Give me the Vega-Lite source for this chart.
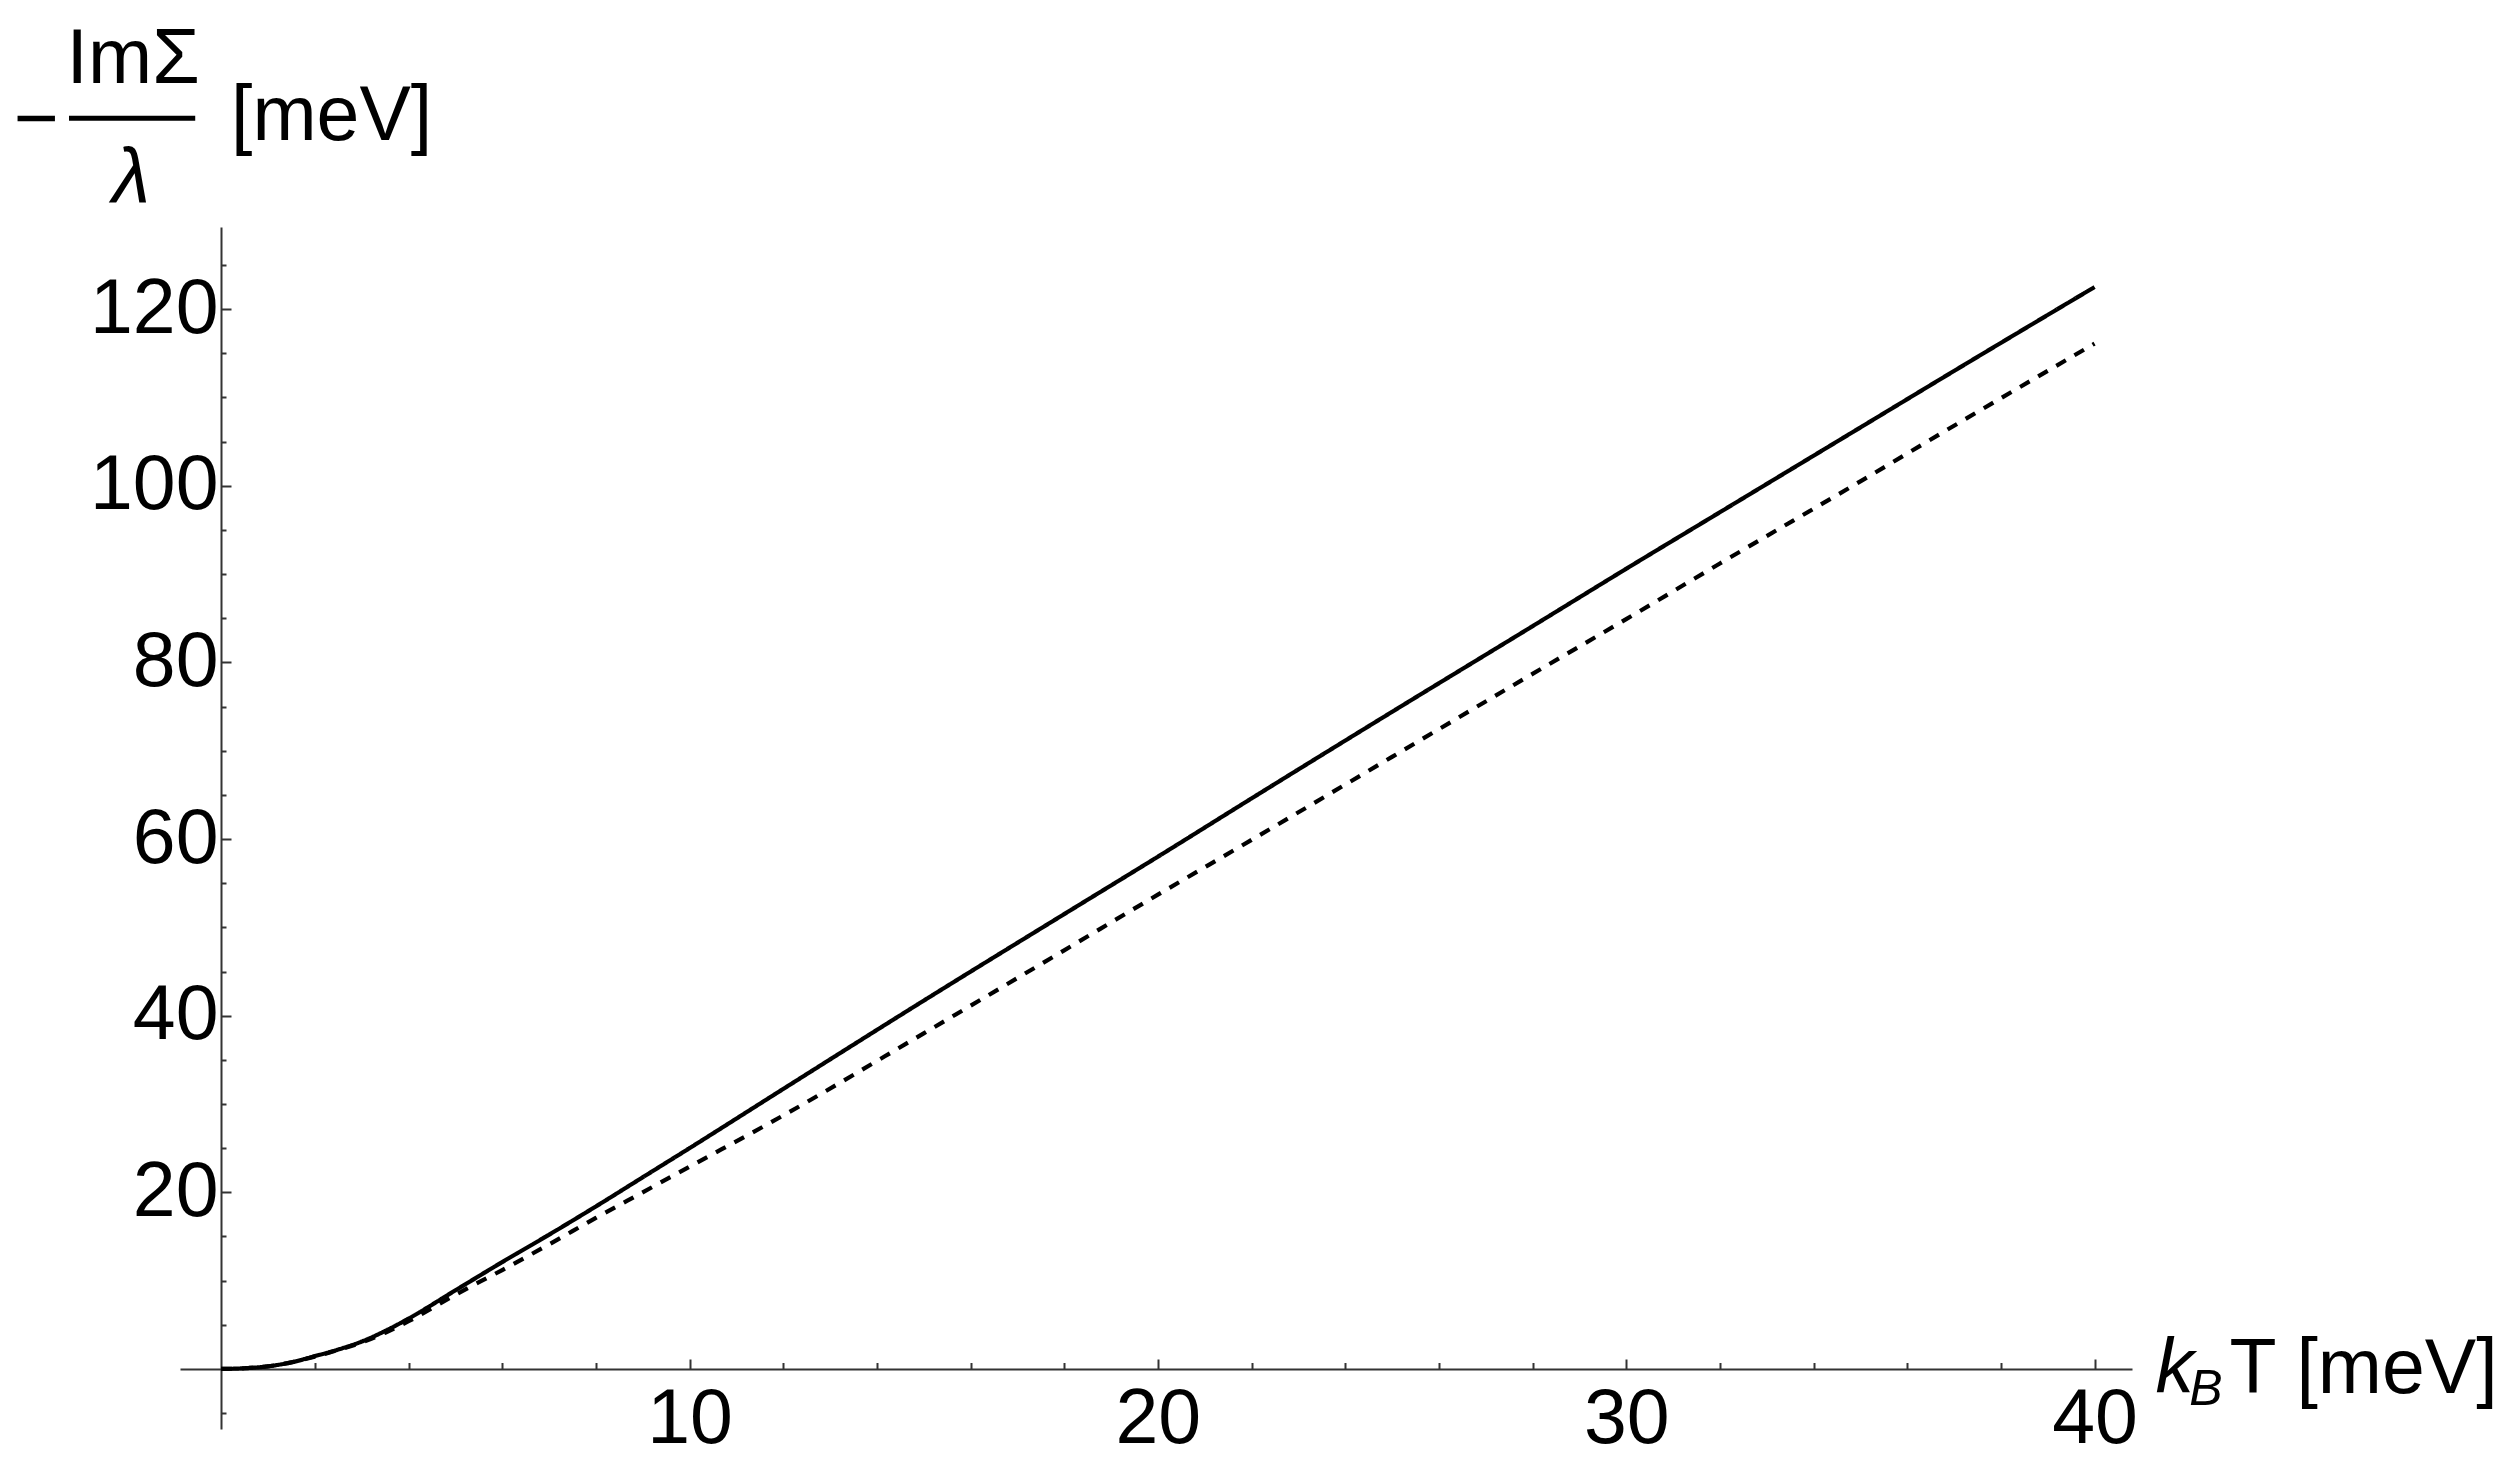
{
  "$schema": "https://vega.github.io/schema/vega-lite/v6.json",
  "width": 1952,
  "height": 1202,
  "autosize": {"type": "none"},
  "padding": {"left": 180, "top": 227, "right": 384, "bottom": 49},
  "background": "white",
  "config": {"view": {"stroke": null}, "font": "Liberation Sans"},
  "layer": [
    {
      "data": {
        "values": [
          {"t": 0, "v": 0, "curve": "full"},
          {"t": 0.5, "v": 0.08, "curve": "full"},
          {"t": 1, "v": 0.3, "curve": "full"},
          {"t": 1.5, "v": 0.75, "curve": "full"},
          {"t": 2, "v": 1.45, "curve": "full"},
          {"t": 2.5, "v": 2.2, "curve": "full"},
          {"t": 3, "v": 3.1, "curve": "full"},
          {"t": 3.5, "v": 4.3, "curve": "full"},
          {"t": 4, "v": 5.7, "curve": "full"},
          {"t": 5, "v": 8.9, "curve": "full"},
          {"t": 6, "v": 12.1, "curve": "full"},
          {"t": 7, "v": 15.2, "curve": "full"},
          {"t": 8, "v": 18.4, "curve": "full"},
          {"t": 9, "v": 21.7, "curve": "full"},
          {"t": 10, "v": 25.0, "curve": "full"},
          {"t": 12, "v": 31.7, "curve": "full"},
          {"t": 15, "v": 41.7, "curve": "full"},
          {"t": 18, "v": 51.5, "curve": "full"},
          {"t": 20, "v": 58.0, "curve": "full"},
          {"t": 22, "v": 64.6, "curve": "full"},
          {"t": 25, "v": 74.4, "curve": "full"},
          {"t": 28, "v": 84.1, "curve": "full"},
          {"t": 30, "v": 90.6, "curve": "full"},
          {"t": 32, "v": 97.0, "curve": "full"},
          {"t": 35, "v": 106.6, "curve": "full"},
          {"t": 37, "v": 113.0, "curve": "full"},
          {"t": 40, "v": 122.5, "curve": "full"},
          {"t": 0, "v": 0, "curve": "approx"},
          {"t": 0.5, "v": 0.08, "curve": "approx"},
          {"t": 1, "v": 0.3, "curve": "approx"},
          {"t": 1.5, "v": 0.75, "curve": "approx"},
          {"t": 2, "v": 1.4, "curve": "approx"},
          {"t": 2.5, "v": 2.15, "curve": "approx"},
          {"t": 3, "v": 3.0, "curve": "approx"},
          {"t": 3.5, "v": 4.1, "curve": "approx"},
          {"t": 4, "v": 5.4, "curve": "approx"},
          {"t": 5, "v": 8.4, "curve": "approx"},
          {"t": 6, "v": 11.2, "curve": "approx"},
          {"t": 7, "v": 14.1, "curve": "approx"},
          {"t": 8, "v": 17.1, "curve": "approx"},
          {"t": 9, "v": 20.0, "curve": "approx"},
          {"t": 10, "v": 22.9, "curve": "approx"},
          {"t": 12, "v": 28.7, "curve": "approx"},
          {"t": 15, "v": 38.0, "curve": "approx"},
          {"t": 18, "v": 47.4, "curve": "approx"},
          {"t": 20, "v": 53.7, "curve": "approx"},
          {"t": 22, "v": 59.9, "curve": "approx"},
          {"t": 25, "v": 69.3, "curve": "approx"},
          {"t": 28, "v": 78.7, "curve": "approx"},
          {"t": 30, "v": 84.9, "curve": "approx"},
          {"t": 32, "v": 91.2, "curve": "approx"},
          {"t": 35, "v": 100.5, "curve": "approx"},
          {"t": 37, "v": 106.8, "curve": "approx"},
          {"t": 40, "v": 116.1, "curve": "approx"}
        ]
      },
      "mark": {"type": "line", "color": "black", "strokeWidth": 4.2, "interpolate": "monotone"},
      "encoding": {
        "x": {
          "field": "t",
          "type": "quantitative",
          "title": null,
          "scale": {"domain": [-0.88, 40.8], "nice": false, "zero": false},
          "axis": {
            "values": [2, 4, 6, 8, 10, 12, 14, 16, 18, 20, 22, 24, 26, 28, 30, 32, 34, 36, 38, 40],
            "labelExpr": "datum.value % 10 === 0 ? datum.label : ''",
            "tickSize": {"condition": {"test": "datum.value % 10 === 0", "value": -10}, "value": -6.5},
            "tickWidth": 2,
            "tickColor": "#333",
            "domainColor": "#333",
            "domainWidth": 2,
            "labelFontSize": 77,
            "labelColor": "black",
            "labelFont": "Liberation Sans",
            "labelPadding": 22,
            "labelFlush": false,
            "labelOverlap": false,
            "labelBound": false,
            "grid": false,
            "offset": -60
          }
        },
        "y": {
          "field": "v",
          "type": "quantitative",
          "title": null,
          "scale": {"domain": [-6.8, 129.3], "nice": false, "zero": false},
          "axis": {
            "values": [-5, 5, 10, 15, 20, 25, 30, 35, 40, 45, 50, 55, 60, 65, 70, 75, 80, 85, 90, 95, 100, 105, 110, 115, 120, 125],
            "labelExpr": "datum.value % 20 === 0 ? datum.label : ''",
            "tickSize": {"condition": {"test": "datum.value % 20 === 0", "value": -10}, "value": -5},
            "tickWidth": 2,
            "tickColor": "#333",
            "domainColor": "#333",
            "domainWidth": 2,
            "labelFontSize": 77,
            "labelColor": "black",
            "labelFont": "Liberation Sans",
            "labelPadding": 13,
            "labelFlush": false,
            "labelOverlap": false,
            "labelBound": false,
            "grid": false,
            "offset": -41
          }
        },
        "detail": {"field": "curve"},
        "strokeDash": {
          "field": "curve",
          "type": "nominal",
          "legend": null,
          "scale": {"domain": ["full", "approx"], "range": [[1, 0], [11, 10]]}
        }
      }
    },
    {
      "data": {"values": [{}]},
      "mark": {"type": "text", "text": "ImΣ", "fontSize": 77, "font": "Liberation Sans", "align": "center", "baseline": "alphabetic", "color": "black"},
      "encoding": {
        "x": {"datum": -1.88, "type": "quantitative", "scale": {"domain": [-0.88, 40.8], "nice": false, "zero": false}},
        "y": {"datum": 145.6, "type": "quantitative", "scale": {"domain": [-6.8, 129.3], "nice": false, "zero": false}}
      }
    },
    {
      "data": {"values": [{}]},
      "mark": {"type": "rule", "color": "black", "strokeWidth": 5},
      "encoding": {
        "x": {"datum": -3.25, "type": "quantitative", "scale": {"domain": [-0.88, 40.8], "nice": false, "zero": false}},
        "x2": {"datum": -0.555},
        "y": {"datum": 141.6, "type": "quantitative", "scale": {"domain": [-6.8, 129.3], "nice": false, "zero": false}}
      }
    },
    {
      "data": {"values": [{}]},
      "mark": {"type": "text", "text": "−", "fontSize": 77, "font": "Liberation Sans", "align": "center", "baseline": "alphabetic", "color": "black"},
      "encoding": {
        "x": {"datum": -3.95, "type": "quantitative", "scale": {"domain": [-0.88, 40.8], "nice": false, "zero": false}},
        "y": {"datum": 138.7, "type": "quantitative", "scale": {"domain": [-6.8, 129.3], "nice": false, "zero": false}}
      }
    },
    {
      "data": {"values": [{}]},
      "mark": {"type": "text", "text": "λ", "fontSize": 77, "font": "Liberation Sans", "fontStyle": "italic", "align": "center", "baseline": "alphabetic", "color": "black"},
      "encoding": {
        "x": {"datum": -1.92, "type": "quantitative", "scale": {"domain": [-0.88, 40.8], "nice": false, "zero": false}},
        "y": {"datum": 132.0, "type": "quantitative", "scale": {"domain": [-6.8, 129.3], "nice": false, "zero": false}}
      }
    },
    {
      "data": {"values": [{}]},
      "mark": {"type": "text", "text": "[meV]", "fontSize": 77, "font": "Liberation Sans", "align": "left", "baseline": "alphabetic", "color": "black"},
      "encoding": {
        "x": {"datum": 0.21, "type": "quantitative", "scale": {"domain": [-0.88, 40.8], "nice": false, "zero": false}},
        "y": {"datum": 139.2, "type": "quantitative", "scale": {"domain": [-6.8, 129.3], "nice": false, "zero": false}}
      }
    },
    {
      "data": {"values": [{}]},
      "mark": {"type": "text", "text": "k", "fontSize": 77, "font": "Liberation Sans", "fontStyle": "italic", "align": "left", "baseline": "alphabetic", "color": "black"},
      "encoding": {
        "x": {"datum": 41.3, "type": "quantitative", "scale": {"domain": [-0.88, 40.8], "nice": false, "zero": false}},
        "y": {"datum": -2.72, "type": "quantitative", "scale": {"domain": [-6.8, 129.3], "nice": false, "zero": false}}
      }
    },
    {
      "data": {"values": [{}]},
      "mark": {"type": "text", "text": "B", "fontSize": 50, "font": "Liberation Sans", "fontStyle": "italic", "align": "left", "baseline": "alphabetic", "color": "black"},
      "encoding": {
        "x": {"datum": 42.02, "type": "quantitative", "scale": {"domain": [-0.88, 40.8], "nice": false, "zero": false}},
        "y": {"datum": -4.08, "type": "quantitative", "scale": {"domain": [-6.8, 129.3], "nice": false, "zero": false}}
      }
    },
    {
      "data": {"values": [{}]},
      "mark": {"type": "text", "text": "T [meV]", "fontSize": 77, "font": "Liberation Sans", "align": "left", "baseline": "alphabetic", "color": "black"},
      "encoding": {
        "x": {"datum": 42.88, "type": "quantitative", "scale": {"domain": [-0.88, 40.8], "nice": false, "zero": false}},
        "y": {"datum": -2.72, "type": "quantitative", "scale": {"domain": [-6.8, 129.3], "nice": false, "zero": false}}
      }
    }
  ]
}
